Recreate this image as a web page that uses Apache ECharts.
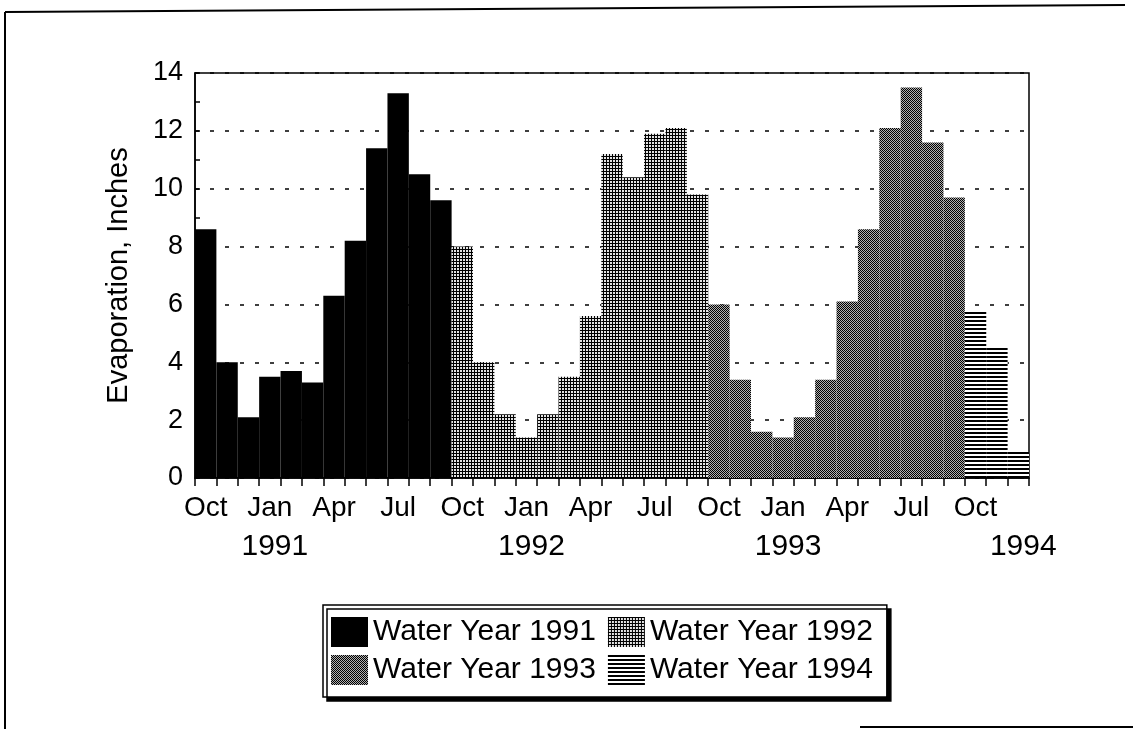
<html lang="en">
<head>
  <meta charset="UTF-8">
  <title>evaporation chart</title>
  <style>
    html, body { margin: 0; padding: 0; background: #fff; }
    #chart { width: 1133px; height: 729px; }
  </style>
</head>
<body>
  <div id="chart"></div>
  <script src="https://cdn.jsdelivr.net/npm/echarts@6/dist/echarts.min.js"></script>
  <script>
    // months from Oct 1990 to Dec 1993
    var months = [
      'Oct', 'Nov', 'Dec', 'Jan', 'Feb', 'Mar', 'Apr', 'May', 'Jun', 'Jul', 'Aug', 'Sep',
      'Oct', 'Nov', 'Dec', 'Jan', 'Feb', 'Mar', 'Apr', 'May', 'Jun', 'Jul', 'Aug', 'Sep',
      'Oct', 'Nov', 'Dec', 'Jan', 'Feb', 'Mar', 'Apr', 'May', 'Jun', 'Jul', 'Aug', 'Sep',
      'Oct', 'Nov', 'Dec'
    ]
    var yearLabels = { 3: '1991', 15: '1992', 27: '1993', 38: '1994' }
    var seriesNames = ['Water Year 1991', 'Water Year 1992', 'Water Year 1993', 'Water Year 1994']
    var wy1991 = [8.6, 4.0, 2.1, 3.5, 3.7, 3.3, 6.3, 8.2, 11.4, 13.3, 10.5, 9.6]
    var wy1992 = [8.0, 4.0, 2.2, 1.4, 2.2, 3.5, 5.6, 11.2, 10.4, 11.9, 12.1, 9.8]
    var wy1993 = [6.0, 3.4, 1.6, 1.4, 2.1, 3.4, 6.1, 8.6, 12.1, 13.5, 11.6, 9.7]
    var wy1994 = [5.8, 4.5, 0.9]
    var yTicks = [0, 2, 4, 6, 8, 10, 12, 14]

    var font = '"Liberation Sans", Arial, Helvetica, sans-serif'

    function makePattern(w, h, bg, draw) {
      var c = document.createElement('canvas')
      c.width = w
      c.height = h
      var ctx = c.getContext('2d')
      ctx.fillStyle = bg
      ctx.fillRect(0, 0, w, h)
      ctx.fillStyle = '#000'
      draw(ctx)
      return { image: c, repeat: 'repeat' }
    }

    var fills = [
      '#000',
      // fine cross hatch
      makePattern(3, 3, '#e4e4e4', function (ctx) {
        ctx.fillRect(0, 0, 3, 1)
        ctx.fillRect(0, 0, 1, 3)
      }),
      // dither
      makePattern(2, 2, '#b0b0b0', function (ctx) {
        ctx.fillRect(0, 0, 1, 1)
        ctx.fillRect(1, 1, 1, 1)
      }),
      // horizontal lines
      makePattern(1, 4, '#fff', function (ctx) {
        ctx.fillRect(0, 0, 1, 2)
      })
    ]

    var years = [wy1991, wy1992, wy1993, wy1994]
    var series = years.map(function (vals, k) {
      var data = months.map(function () { return '-' })
      vals.forEach(function (v, i) { data[k * 12 + i] = v })
      return {
        name: seriesNames[k],
        type: 'bar',
        xAxisIndex: 0,
        data: data,
        barWidth: '100%',
        barGap: '-100%',
        itemStyle: { color: fills[k] }
      }
    })

    var chart = echarts.init(document.getElementById('chart'))
    chart.setOption({
      animation: false,
      backgroundColor: '#fff',
      textStyle: { fontFamily: font, color: '#000' },
      grid: {
        left: 195,
        top: 73,
        width: 834,
        height: 405,
        show: true,
        borderColor: '#000',
        borderWidth: 1.5,
        backgroundColor: 'transparent'
      },
      legend: {
        data: seriesNames,
        left: 323,
        top: 605,
        width: 552,
        orient: 'horizontal',
        padding: [12, 10, 12, 8],
        itemGap: 8,
        itemWidth: 37,
        itemHeight: 30,
        icon: 'rect',
        backgroundColor: '#fff',
        borderColor: '#000',
        borderWidth: 1.5,
        borderRadius: 0,
        shadowColor: '#000',
        shadowBlur: 0,
        shadowOffsetX: 4,
        shadowOffsetY: 4,
        textStyle: { fontFamily: font, fontSize: 30, lineHeight: 30, color: '#000', padding: [0, 4, 0, 0] }
      },
      xAxis: [
        {
          type: 'category',
          data: months,
          boundaryGap: true,
          axisLine: { lineStyle: { color: '#000', width: 1.5 } },
          axisTick: {
            show: true,
            interval: 0,
            length: 8,
            lineStyle: { color: '#000', width: 1.5 }
          },
          axisLabel: {
            interval: function (i) { return i % 3 === 0 },
            hideOverlap: false,
            margin: 16,
            color: '#000',
            fontFamily: font,
            fontSize: 28
          },
          splitLine: { show: false }
        },
        {
          // second row of labels: years
          type: 'category',
          data: months,
          position: 'bottom',
          boundaryGap: true,
          axisLine: { show: false },
          axisTick: { show: false },
          axisLabel: {
            interval: function (i) { return yearLabels[i] !== undefined },
            formatter: function (value, index) { return yearLabels[index] || '' },
            hideOverlap: false,
            showMaxLabel: true,
            margin: 54,
            color: '#000',
            fontFamily: font,
            fontSize: 30,
            padding: [0, 0, 0, 10]
          },
          splitLine: { show: false }
        }
      ],
      yAxis: {
        type: 'value',
        min: 0,
        max: 14,
        interval: 2,
        name: 'Evaporation, Inches',
        nameLocation: 'middle',
        nameGap: 62,
        nameTextStyle: { fontFamily: font, fontSize: 29, color: '#000' },
        axisLine: { show: true, lineStyle: { color: '#000', width: 1.5 } },
        axisTick: { show: true, inside: true, length: 5, lineStyle: { color: '#000', width: 1.5 } },
        minorTick: { show: true, splitNumber: 2, length: 5, lineStyle: { color: '#000', width: 1.5 } },
        axisLabel: {
          margin: 12,
          color: '#000',
          fontFamily: font,
          fontSize: 27,
          customValues: yTicks
        },
        splitLine: {
          show: true,
          lineStyle: { color: '#000', width: 1.5, type: [4, 11] }
        }
      },
      graphic: [
        { type: 'line', shape: { x1: 5, y1: 12, x2: 1125, y2: 5 }, style: { stroke: '#000', lineWidth: 2 } },
        { type: 'line', shape: { x1: 5, y1: 12, x2: 5, y2: 729 }, style: { stroke: '#000', lineWidth: 2 } },
        { type: 'line', shape: { x1: 860, y1: 727, x2: 1133, y2: 727 }, style: { stroke: '#000', lineWidth: 2 } }
      ],
      series: series
    })
  </script>
</body>
</html>
